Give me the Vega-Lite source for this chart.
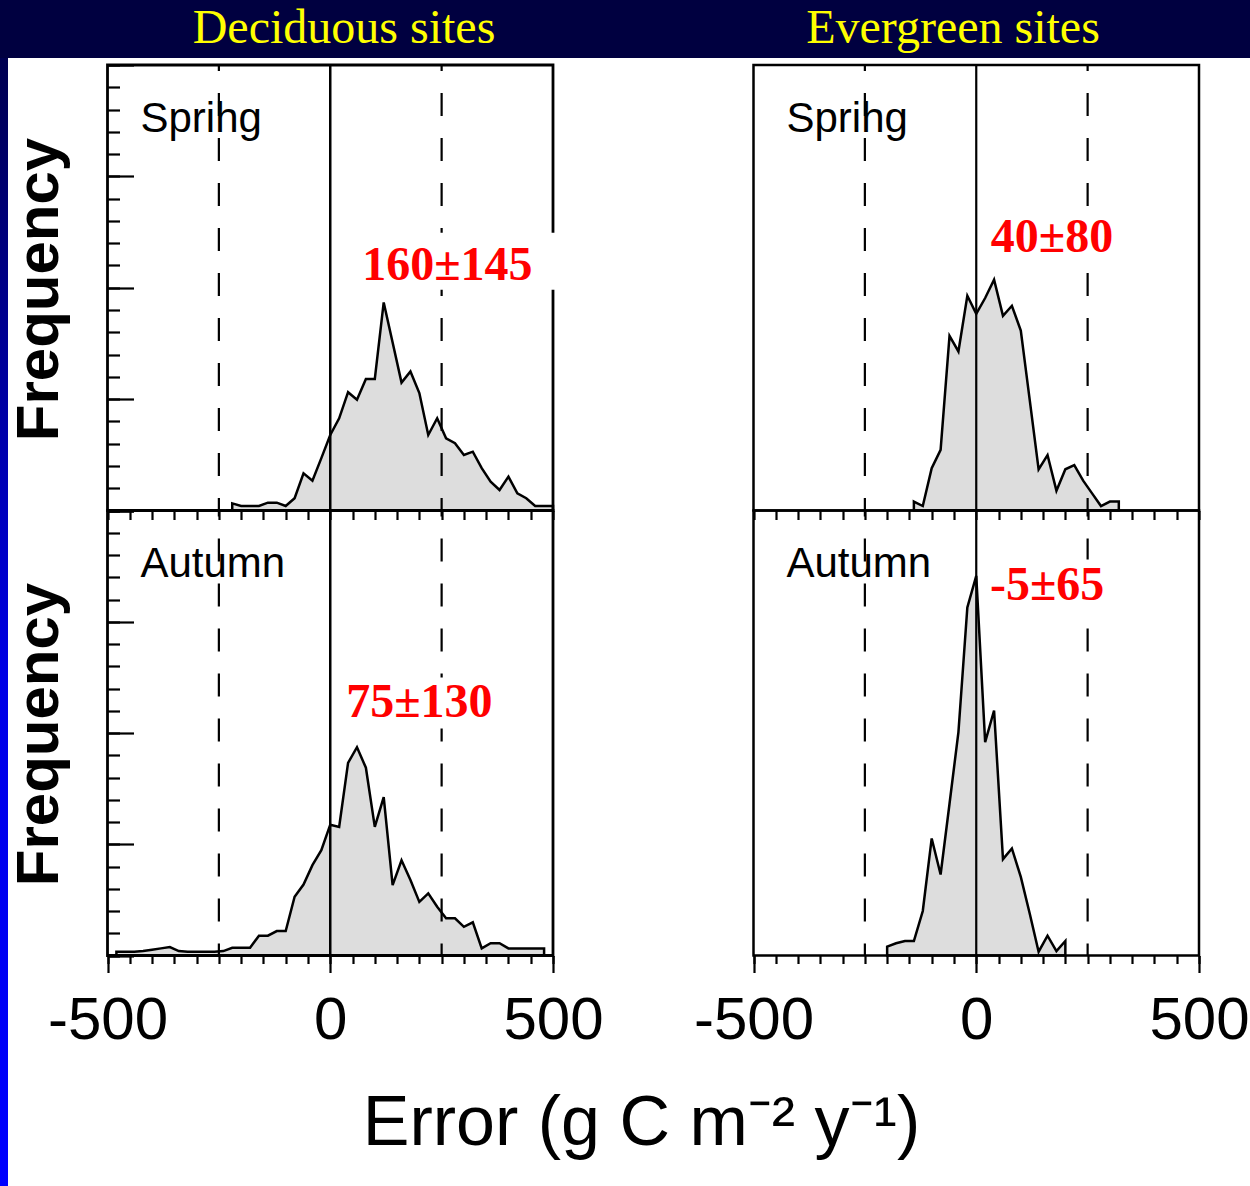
{
  "$schema": "https://vega.github.io/schema/vega-lite/v6.json",
  "padding": 0,
  "background": "white",
  "config": {
    "view": {"stroke": null},
    "axis": {"domain": false, "grid": false, "tickColor": "black", "tickWidth": 2.2, "labelColor": "black", "titleColor": "black", "labelFont": "Liberation Sans", "titleFont": "Liberation Sans"}
  },
  "datasets": {
    "ds": [
      {"error": -220, "freq": 0.32}, {"error": -200, "freq": 0.2}, {"error": -180, "freq": 0.2}, {"error": -160, "freq": 0.2},
      {"error": -140, "freq": 0.35}, {"error": -120, "freq": 0.35}, {"error": -100, "freq": 0.2}, {"error": -80, "freq": 0.55},
      {"error": -60, "freq": 1.67}, {"error": -40, "freq": 1.34}, {"error": -20, "freq": 2.35}, {"error": 0, "freq": 3.39},
      {"error": 20, "freq": 4.14}, {"error": 40, "freq": 5.31}, {"error": 60, "freq": 4.97}, {"error": 80, "freq": 5.9},
      {"error": 100, "freq": 5.9}, {"error": 120, "freq": 9.34}, {"error": 140, "freq": 7.54}, {"error": 160, "freq": 5.74},
      {"error": 180, "freq": 6.24}, {"error": 200, "freq": 5.27}, {"error": 220, "freq": 3.39}, {"error": 240, "freq": 4.14},
      {"error": 260, "freq": 3.24}, {"error": 280, "freq": 3.02}, {"error": 300, "freq": 2.49}, {"error": 320, "freq": 2.64},
      {"error": 340, "freq": 1.9}, {"error": 360, "freq": 1.29}, {"error": 380, "freq": 0.92}, {"error": 400, "freq": 1.52},
      {"error": 420, "freq": 0.77}, {"error": 440, "freq": 0.55}, {"error": 460, "freq": 0.2}, {"error": 480, "freq": 0.2},
      {"error": 500, "freq": 0.2}
    ],
    "es": [
      {"error": -140, "freq": 0.4}, {"error": -120, "freq": 0.2}, {"error": -100, "freq": 1.9}, {"error": -80, "freq": 2.72},
      {"error": -60, "freq": 7.84}, {"error": -40, "freq": 7.14}, {"error": -20, "freq": 9.64}, {"error": 0, "freq": 8.83},
      {"error": 20, "freq": 9.54}, {"error": 40, "freq": 10.36}, {"error": 60, "freq": 8.74}, {"error": 80, "freq": 9.19},
      {"error": 100, "freq": 8.08}, {"error": 120, "freq": 4.97}, {"error": 140, "freq": 1.85}, {"error": 160, "freq": 2.49},
      {"error": 180, "freq": 0.89}, {"error": 200, "freq": 1.85}, {"error": 220, "freq": 2.04}, {"error": 240, "freq": 1.34},
      {"error": 260, "freq": 0.77}, {"error": 280, "freq": 0.2}, {"error": 300, "freq": 0.4}, {"error": 320, "freq": 0.4}
    ],
    "da": [
      {"error": -480, "freq": 0.17}, {"error": -460, "freq": 0.17}, {"error": -440, "freq": 0.17}, {"error": -420, "freq": 0.2},
      {"error": -400, "freq": 0.26}, {"error": -380, "freq": 0.32}, {"error": -360, "freq": 0.38}, {"error": -340, "freq": 0.2},
      {"error": -320, "freq": 0.17}, {"error": -300, "freq": 0.17}, {"error": -280, "freq": 0.17}, {"error": -260, "freq": 0.17},
      {"error": -240, "freq": 0.2}, {"error": -220, "freq": 0.35}, {"error": -200, "freq": 0.35}, {"error": -180, "freq": 0.35},
      {"error": -160, "freq": 0.89}, {"error": -140, "freq": 0.89}, {"error": -120, "freq": 1.1}, {"error": -100, "freq": 1.1},
      {"error": -80, "freq": 2.64}, {"error": -60, "freq": 3.19}, {"error": -40, "freq": 4.06}, {"error": -20, "freq": 4.73},
      {"error": 0, "freq": 5.88}, {"error": 20, "freq": 5.78}, {"error": 40, "freq": 8.66}, {"error": 60, "freq": 9.36},
      {"error": 80, "freq": 8.44}, {"error": 100, "freq": 5.78}, {"error": 120, "freq": 7.12}, {"error": 140, "freq": 3.16},
      {"error": 160, "freq": 4.28}, {"error": 180, "freq": 3.39}, {"error": 200, "freq": 2.41}, {"error": 220, "freq": 2.79},
      {"error": 240, "freq": 2.19}, {"error": 260, "freq": 1.67}, {"error": 280, "freq": 1.67}, {"error": 300, "freq": 1.29},
      {"error": 320, "freq": 1.49}, {"error": 340, "freq": 0.32}, {"error": 360, "freq": 0.55}, {"error": 380, "freq": 0.55},
      {"error": 400, "freq": 0.32}, {"error": 420, "freq": 0.32}, {"error": 440, "freq": 0.32}, {"error": 460, "freq": 0.32},
      {"error": 480, "freq": 0.32}
    ],
    "ea": [
      {"error": -200, "freq": 0.4}, {"error": -180, "freq": 0.55}, {"error": -160, "freq": 0.65}, {"error": -140, "freq": 0.65},
      {"error": -120, "freq": 2.0}, {"error": -100, "freq": 5.26}, {"error": -80, "freq": 3.64}, {"error": -60, "freq": 6.82},
      {"error": -40, "freq": 10.04}, {"error": -20, "freq": 15.64}, {"error": 0, "freq": 17.06}, {"error": 20, "freq": 9.59},
      {"error": 40, "freq": 11.01}, {"error": 60, "freq": 4.33}, {"error": 80, "freq": 4.81}, {"error": 100, "freq": 3.53},
      {"error": 120, "freq": 1.89}, {"error": 140, "freq": 0.17}, {"error": 160, "freq": 0.89}, {"error": 180, "freq": 0.2},
      {"error": 200, "freq": 0.65}
    ]
  },
  "spacing": 0,
  "vconcat": [
    {
      "width": 1250,
      "height": 58,
      "view": {"fill": "#000040", "stroke": null},
      "data": {"values": [{"site": "Deciduous sites"}, {"site": "Evergreen sites"}]},
      "mark": {"type": "text", "font": "Liberation Serif", "fontSize": 48, "fill": "#ffff00", "align": "center", "baseline": "middle"},
      "encoding": {
        "x": {"field": "site", "type": "nominal", "sort": null, "scale": {"type": "point", "padding": 0, "range": [344, 953]}, "axis": null},
        "text": {"field": "site"}
      }
    },
    {
      "spacing": 0,
      "hconcat": [
        {
          "width": 8,
          "height": 1128,
          "data": {"values": [{}]},
          "mark": {"type": "rect", "fill": {"gradient": "linear", "x1": 0, "y1": 0, "x2": 0, "y2": 1, "stops": [{"offset": 0, "color": "#000050"}, {"offset": 0.55, "color": "#0000e6"}, {"offset": 1, "color": "#0000ff"}]}},
          "encoding": {
            "x": {"datum": 0, "type": "quantitative", "scale": {"domain": [0, 1], "nice": false}, "axis": null},
            "x2": {"datum": 1},
            "y": {"datum": 0, "type": "quantitative", "scale": {"domain": [0, 1], "nice": false}, "axis": null},
            "y2": {"datum": 1}
          }
        },
        {
          "width": 1242,
          "height": 1128,
          "resolve": {"scale": {"x": "independent", "y": "independent"}, "axis": {"x": "independent", "y": "independent"}},
          "layer": [
            {
              "resolve": {"axis": {"x": "independent", "y": "independent"}},
              "layer": [
                {
                  "data": {"name": "ds"},
                  "mark": {"type": "area", "fill": "#dddddd", "stroke": "black", "strokeWidth": 2.5},
                  "encoding": {
                    "x": {"field": "error", "type": "quantitative", "scale": {"domain": [-500, 500], "range": [99.5, 545], "nice": false, "zero": false}, "axis": null},
                    "y": {"field": "freq", "type": "quantitative", "stack": null, "scale": {"domain": [0, 20], "range": [452.5, 7], "nice": false, "zero": false},
                      "axis": {"orient": "left", "offset": -99.5, "values": [0, 5, 10, 15, 20], "tickSize": -26, "labels": false, "title": "Frequency", "titleFontSize": 60, "titleFontWeight": "bold", "titleAngle": -90, "titleAlign": "center", "titleBaseline": "alphabetic", "titleX": -50, "titleY": 231}}
                  }
                },
                {
                  "data": {"values": [{}]},
                  "mark": {"type": "rule", "strokeWidth": 2.5, "color": "black"},
                  "encoding": {
                    "x": {"datum": 0, "type": "quantitative", "scale": {"domain": [-500, 500], "range": [99.5, 545], "nice": false, "zero": false}, "axis": null},
                    "y": {"datum": 20, "type": "quantitative", "scale": {"domain": [0, 20], "range": [452.5, 7], "nice": false, "zero": false},
                      "axis": {"orient": "left", "offset": -99.5, "values": [0, 1, 2, 3, 4, 5, 6, 7, 8, 9, 10, 11, 12, 13, 14, 15, 16, 17, 18, 19, 20], "tickSize": -12, "labels": false, "title": null}},
                    "y2": {"datum": 0}
                  }
                },
                {
                  "data": {"values": [{}]},
                  "mark": {"type": "rule", "strokeWidth": 2.2, "color": "black", "strokeDash": [23, 22], "strokeDashOffset": 17},
                  "encoding": {
                    "x": {"datum": -250, "type": "quantitative", "scale": {"domain": [-500, 500], "range": [99.5, 545], "nice": false, "zero": false}, "axis": null},
                    "y": {"datum": 20, "type": "quantitative", "scale": {"domain": [0, 20], "range": [452.5, 7], "nice": false, "zero": false}, "axis": null},
                    "y2": {"datum": 0}
                  }
                },
                {
                  "data": {"values": [{}]},
                  "mark": {"type": "rule", "strokeWidth": 2.2, "color": "black", "strokeDash": [23, 22], "strokeDashOffset": 17},
                  "encoding": {
                    "x": {"datum": 250, "type": "quantitative", "scale": {"domain": [-500, 500], "range": [99.5, 545], "nice": false, "zero": false}, "axis": null},
                    "y": {"datum": 20, "type": "quantitative", "scale": {"domain": [0, 20], "range": [452.5, 7], "nice": false, "zero": false}, "axis": null},
                    "y2": {"datum": 0}
                  }
                },
                {
                  "data": {"values": [{}]},
                  "mark": {"type": "rect", "filled": false, "stroke": "black", "strokeWidth": 2.8},
                  "encoding": {
                    "x": {"datum": -500, "type": "quantitative", "scale": {"domain": [-500, 500], "range": [99.5, 545], "nice": false, "zero": false}, "axis": null},
                    "x2": {"datum": 500},
                    "y": {"datum": 0, "type": "quantitative", "scale": {"domain": [0, 20], "range": [452.5, 7], "nice": false, "zero": false}, "axis": null},
                    "y2": {"datum": 20}
                  }
                },
                {
                  "data": {"values": [{}]},
                  "mark": {"type": "rect", "fill": "white", "strokeWidth": 0},
                  "encoding": {
                    "x": {"datum": 55, "type": "quantitative", "scale": {"domain": [-500, 500], "range": [99.5, 545], "nice": false, "zero": false}, "axis": null},
                    "x2": {"datum": 505},
                    "y": {"datum": 9.91, "type": "quantitative", "scale": {"domain": [0, 20], "range": [452.5, 7], "nice": false, "zero": false}, "axis": null},
                    "y2": {"datum": 12.47}
                  }
                },
                {
                  "data": {"values": [{}]},
                  "mark": {"type": "text", "font": "Liberation Sans", "fontSize": 42, "fill": "black", "align": "left", "baseline": "alphabetic"},
                  "encoding": {
                    "x": {"datum": -426, "type": "quantitative", "scale": {"domain": [-500, 500], "range": [99.5, 545], "nice": false, "zero": false}, "axis": null},
                    "y": {"datum": 17, "type": "quantitative", "scale": {"domain": [0, 20], "range": [452.5, 7], "nice": false, "zero": false}, "axis": null},
                    "text": {"value": "Sprihg"}
                  }
                },
                {
                  "data": {"values": [{}]},
                  "mark": {"type": "text", "font": "Liberation Serif", "fontSize": 48, "fontWeight": "bold", "fill": "#ff0000", "align": "center", "baseline": "alphabetic"},
                  "encoding": {
                    "x": {"datum": 263, "type": "quantitative", "scale": {"domain": [-500, 500], "range": [99.5, 545], "nice": false, "zero": false}, "axis": null},
                    "y": {"datum": 10.36, "type": "quantitative", "scale": {"domain": [0, 20], "range": [452.5, 7], "nice": false, "zero": false}, "axis": null},
                    "text": {"value": "160±145"}
                  }
                }
              ]
            },
            {
              "resolve": {"axis": {"x": "independent", "y": "independent"}},
              "layer": [
                {
                  "data": {"name": "es"},
                  "mark": {"type": "area", "fill": "#dddddd", "stroke": "black", "strokeWidth": 2.5},
                  "encoding": {
                    "x": {"field": "error", "type": "quantitative", "scale": {"domain": [-500, 500], "range": [745.5, 1191], "nice": false, "zero": false}, "axis": null},
                    "y": {"field": "freq", "type": "quantitative", "stack": null, "scale": {"domain": [0, 20], "range": [452.5, 7], "nice": false, "zero": false}, "axis": null}
                  }
                },
                {
                  "data": {"values": [{}]},
                  "mark": {"type": "rule", "strokeWidth": 2.2, "color": "black"},
                  "encoding": {
                    "x": {"datum": 0, "type": "quantitative", "scale": {"domain": [-500, 500], "range": [745.5, 1191], "nice": false, "zero": false}, "axis": null},
                    "y": {"datum": 20, "type": "quantitative", "scale": {"domain": [0, 20], "range": [452.5, 7], "nice": false, "zero": false}, "axis": null},
                    "y2": {"datum": 0}
                  }
                },
                {
                  "data": {"values": [{}]},
                  "mark": {"type": "rule", "strokeWidth": 2.2, "color": "black", "strokeDash": [23, 22], "strokeDashOffset": 17},
                  "encoding": {
                    "x": {"datum": -250, "type": "quantitative", "scale": {"domain": [-500, 500], "range": [745.5, 1191], "nice": false, "zero": false}, "axis": null},
                    "y": {"datum": 20, "type": "quantitative", "scale": {"domain": [0, 20], "range": [452.5, 7], "nice": false, "zero": false}, "axis": null},
                    "y2": {"datum": 0}
                  }
                },
                {
                  "data": {"values": [{}]},
                  "mark": {"type": "rule", "strokeWidth": 2.2, "color": "black", "strokeDash": [23, 22], "strokeDashOffset": 17},
                  "encoding": {
                    "x": {"datum": 250, "type": "quantitative", "scale": {"domain": [-500, 500], "range": [745.5, 1191], "nice": false, "zero": false}, "axis": null},
                    "y": {"datum": 20, "type": "quantitative", "scale": {"domain": [0, 20], "range": [452.5, 7], "nice": false, "zero": false}, "axis": null},
                    "y2": {"datum": 0}
                  }
                },
                {
                  "data": {"values": [{}]},
                  "mark": {"type": "rect", "filled": false, "stroke": "black", "strokeWidth": 2.5},
                  "encoding": {
                    "x": {"datum": -500, "type": "quantitative", "scale": {"domain": [-500, 500], "range": [745.5, 1191], "nice": false, "zero": false}, "axis": null},
                    "x2": {"datum": 500},
                    "y": {"datum": 0, "type": "quantitative", "scale": {"domain": [0, 20], "range": [452.5, 7], "nice": false, "zero": false}, "axis": null},
                    "y2": {"datum": 20}
                  }
                },
                {
                  "data": {"values": [{}]},
                  "mark": {"type": "rect", "fill": "white", "strokeWidth": 0},
                  "encoding": {
                    "x": {"datum": 25, "type": "quantitative", "scale": {"domain": [-500, 500], "range": [745.5, 1191], "nice": false, "zero": false}, "axis": null},
                    "x2": {"datum": 320},
                    "y": {"datum": 11.3, "type": "quantitative", "scale": {"domain": [0, 20], "range": [452.5, 7], "nice": false, "zero": false}, "axis": null},
                    "y2": {"datum": 13.3}
                  }
                },
                {
                  "data": {"values": [{}]},
                  "mark": {"type": "text", "font": "Liberation Sans", "fontSize": 42, "fill": "black", "align": "left", "baseline": "alphabetic"},
                  "encoding": {
                    "x": {"datum": -426, "type": "quantitative", "scale": {"domain": [-500, 500], "range": [745.5, 1191], "nice": false, "zero": false}, "axis": null},
                    "y": {"datum": 17, "type": "quantitative", "scale": {"domain": [0, 20], "range": [452.5, 7], "nice": false, "zero": false}, "axis": null},
                    "text": {"value": "Sprihg"}
                  }
                },
                {
                  "data": {"values": [{}]},
                  "mark": {"type": "text", "font": "Liberation Serif", "fontSize": 48, "fontWeight": "bold", "fill": "#ff0000", "align": "center", "baseline": "alphabetic"},
                  "encoding": {
                    "x": {"datum": 170, "type": "quantitative", "scale": {"domain": [-500, 500], "range": [745.5, 1191], "nice": false, "zero": false}, "axis": null},
                    "y": {"datum": 11.6, "type": "quantitative", "scale": {"domain": [0, 20], "range": [452.5, 7], "nice": false, "zero": false}, "axis": null},
                    "text": {"value": "40±80"}
                  }
                }
              ]
            },
            {
              "resolve": {"axis": {"x": "independent", "y": "independent"}},
              "layer": [
                {
                  "data": {"name": "da"},
                  "mark": {"type": "area", "fill": "#dddddd", "stroke": "black", "strokeWidth": 2.5},
                  "encoding": {
                    "x": {"field": "error", "type": "quantitative", "scale": {"domain": [-500, 500], "range": [99.5, 545], "nice": false, "zero": false},
                      "axis": {"orient": "bottom", "offset": -230.5, "values": [-500, 0, 500], "tickSize": 17, "labelExpr": "'' + datum.value", "labelFontSize": 60, "labelPadding": 19, "labelFlush": false, "labelOverlap": false, "labelBound": false,
                        "title": "Error (g C m⁻² y⁻¹)", "titleFontSize": 70, "titleFontWeight": "normal", "titleAngle": 0, "titleAlign": "center", "titleBaseline": "alphabetic", "titleX": 633, "titleY": 188.5}},
                    "y": {"field": "freq", "type": "quantitative", "stack": null, "scale": {"domain": [0, 20], "range": [897.5, 452.5], "nice": false, "zero": false},
                      "axis": {"orient": "left", "offset": -99.5, "values": [0, 5, 10, 15, 20], "tickSize": -26, "labels": false, "title": "Frequency", "titleFontSize": 60, "titleFontWeight": "bold", "titleAngle": -90, "titleAlign": "center", "titleBaseline": "alphabetic", "titleX": -50, "titleY": 676}}
                  }
                },
                {
                  "data": {"values": [{}]},
                  "mark": {"type": "rule", "strokeWidth": 2.5, "color": "black"},
                  "encoding": {
                    "x": {"datum": 0, "type": "quantitative", "scale": {"domain": [-500, 500], "range": [99.5, 545], "nice": false, "zero": false},
                      "axis": {"orient": "top", "offset": -452.5, "values": [-500, -450, -400, -350, -300, -250, -200, -150, -100, -50, 0, 50, 100, 150, 200, 250, 300, 350, 400, 450, 500], "tickSize": -9, "labels": false, "title": null}},
                    "y": {"datum": 20, "type": "quantitative", "scale": {"domain": [0, 20], "range": [897.5, 452.5], "nice": false, "zero": false},
                      "axis": {"orient": "left", "offset": -99.5, "values": [0, 1, 2, 3, 4, 5, 6, 7, 8, 9, 10, 11, 12, 13, 14, 15, 16, 17, 18, 19, 20], "tickSize": -12, "labels": false, "title": null}},
                    "y2": {"datum": 0}
                  }
                },
                {
                  "data": {"values": [{}]},
                  "mark": {"type": "rule", "strokeWidth": 2.2, "color": "black", "strokeDash": [23, 22], "strokeDashOffset": 17},
                  "encoding": {
                    "x": {"datum": -250, "type": "quantitative", "scale": {"domain": [-500, 500], "range": [99.5, 545], "nice": false, "zero": false},
                      "axis": {"orient": "bottom", "offset": -230.5, "values": [-500, -450, -400, -350, -300, -250, -200, -150, -100, -50, 0, 50, 100, 150, 200, 250, 300, 350, 400, 450, 500], "tickSize": 8, "labels": false, "title": null}},
                    "y": {"datum": 20, "type": "quantitative", "scale": {"domain": [0, 20], "range": [897.5, 452.5], "nice": false, "zero": false}, "axis": null},
                    "y2": {"datum": 0}
                  }
                },
                {
                  "data": {"values": [{}]},
                  "mark": {"type": "rule", "strokeWidth": 2.2, "color": "black", "strokeDash": [23, 22], "strokeDashOffset": 17},
                  "encoding": {
                    "x": {"datum": 250, "type": "quantitative", "scale": {"domain": [-500, 500], "range": [99.5, 545], "nice": false, "zero": false}, "axis": null},
                    "y": {"datum": 20, "type": "quantitative", "scale": {"domain": [0, 20], "range": [897.5, 452.5], "nice": false, "zero": false}, "axis": null},
                    "y2": {"datum": 0}
                  }
                },
                {
                  "data": {"values": [{}]},
                  "mark": {"type": "rect", "filled": false, "stroke": "black", "strokeWidth": 2.8},
                  "encoding": {
                    "x": {"datum": -500, "type": "quantitative", "scale": {"domain": [-500, 500], "range": [99.5, 545], "nice": false, "zero": false}, "axis": null},
                    "x2": {"datum": 500},
                    "y": {"datum": 0, "type": "quantitative", "scale": {"domain": [0, 20], "range": [897.5, 452.5], "nice": false, "zero": false}, "axis": null},
                    "y2": {"datum": 20}
                  }
                },
                {
                  "data": {"values": [{}]},
                  "mark": {"type": "rect", "fill": "white", "strokeWidth": 0},
                  "encoding": {
                    "x": {"datum": 26, "type": "quantitative", "scale": {"domain": [-500, 500], "range": [99.5, 545], "nice": false, "zero": false}, "axis": null},
                    "x2": {"datum": 381},
                    "y": {"datum": 10.2, "type": "quantitative", "scale": {"domain": [0, 20], "range": [897.5, 452.5], "nice": false, "zero": false}, "axis": null},
                    "y2": {"datum": 12.49}
                  }
                },
                {
                  "data": {"values": [{}]},
                  "mark": {"type": "text", "font": "Liberation Sans", "fontSize": 42, "fill": "black", "align": "left", "baseline": "alphabetic"},
                  "encoding": {
                    "x": {"datum": -426, "type": "quantitative", "scale": {"domain": [-500, 500], "range": [99.5, 545], "nice": false, "zero": false}, "axis": null},
                    "y": {"datum": 17, "type": "quantitative", "scale": {"domain": [0, 20], "range": [897.5, 452.5], "nice": false, "zero": false}, "axis": null},
                    "text": {"value": "Autumn"}
                  }
                },
                {
                  "data": {"values": [{}]},
                  "mark": {"type": "text", "font": "Liberation Serif", "fontSize": 48, "fontWeight": "bold", "fill": "#ff0000", "align": "center", "baseline": "alphabetic"},
                  "encoding": {
                    "x": {"datum": 200, "type": "quantitative", "scale": {"domain": [-500, 500], "range": [99.5, 545], "nice": false, "zero": false}, "axis": null},
                    "y": {"datum": 10.7, "type": "quantitative", "scale": {"domain": [0, 20], "range": [897.5, 452.5], "nice": false, "zero": false}, "axis": null},
                    "text": {"value": "75±130"}
                  }
                }
              ]
            },
            {
              "resolve": {"axis": {"x": "independent", "y": "independent"}},
              "layer": [
                {
                  "data": {"name": "ea"},
                  "mark": {"type": "area", "fill": "#dddddd", "stroke": "black", "strokeWidth": 2.5},
                  "encoding": {
                    "x": {"field": "error", "type": "quantitative", "scale": {"domain": [-500, 500], "range": [745.5, 1191], "nice": false, "zero": false},
                      "axis": {"orient": "bottom", "offset": -230.5, "values": [-500, 0, 500], "tickSize": 17, "labelExpr": "'' + datum.value", "labelFontSize": 60, "labelPadding": 19, "labelFlush": false, "labelOverlap": false, "labelBound": false, "title": null}},
                    "y": {"field": "freq", "type": "quantitative", "stack": null, "scale": {"domain": [0, 20], "range": [897.5, 452.5], "nice": false, "zero": false}, "axis": null}
                  }
                },
                {
                  "data": {"values": [{}]},
                  "mark": {"type": "rule", "strokeWidth": 2.2, "color": "black"},
                  "encoding": {
                    "x": {"datum": 0, "type": "quantitative", "scale": {"domain": [-500, 500], "range": [745.5, 1191], "nice": false, "zero": false},
                      "axis": {"orient": "top", "offset": -452.5, "values": [-500, -450, -400, -350, -300, -250, -200, -150, -100, -50, 0, 50, 100, 150, 200, 250, 300, 350, 400, 450, 500], "tickSize": -9, "labels": false, "title": null}},
                    "y": {"datum": 20, "type": "quantitative", "scale": {"domain": [0, 20], "range": [897.5, 452.5], "nice": false, "zero": false}, "axis": null},
                    "y2": {"datum": 0}
                  }
                },
                {
                  "data": {"values": [{}]},
                  "mark": {"type": "rule", "strokeWidth": 2.2, "color": "black", "strokeDash": [23, 22], "strokeDashOffset": 17},
                  "encoding": {
                    "x": {"datum": -250, "type": "quantitative", "scale": {"domain": [-500, 500], "range": [745.5, 1191], "nice": false, "zero": false},
                      "axis": {"orient": "bottom", "offset": -230.5, "values": [-500, -450, -400, -350, -300, -250, -200, -150, -100, -50, 0, 50, 100, 150, 200, 250, 300, 350, 400, 450, 500], "tickSize": 8, "labels": false, "title": null}},
                    "y": {"datum": 20, "type": "quantitative", "scale": {"domain": [0, 20], "range": [897.5, 452.5], "nice": false, "zero": false}, "axis": null},
                    "y2": {"datum": 0}
                  }
                },
                {
                  "data": {"values": [{}]},
                  "mark": {"type": "rule", "strokeWidth": 2.2, "color": "black", "strokeDash": [23, 22], "strokeDashOffset": 17},
                  "encoding": {
                    "x": {"datum": 250, "type": "quantitative", "scale": {"domain": [-500, 500], "range": [745.5, 1191], "nice": false, "zero": false}, "axis": null},
                    "y": {"datum": 20, "type": "quantitative", "scale": {"domain": [0, 20], "range": [897.5, 452.5], "nice": false, "zero": false}, "axis": null},
                    "y2": {"datum": 0}
                  }
                },
                {
                  "data": {"values": [{}]},
                  "mark": {"type": "rect", "filled": false, "stroke": "black", "strokeWidth": 2.5},
                  "encoding": {
                    "x": {"datum": -500, "type": "quantitative", "scale": {"domain": [-500, 500], "range": [745.5, 1191], "nice": false, "zero": false}, "axis": null},
                    "x2": {"datum": 500},
                    "y": {"datum": 0, "type": "quantitative", "scale": {"domain": [0, 20], "range": [897.5, 452.5], "nice": false, "zero": false}, "axis": null},
                    "y2": {"datum": 20}
                  }
                },
                {
                  "data": {"values": [{}]},
                  "mark": {"type": "rect", "fill": "white", "strokeWidth": 0},
                  "encoding": {
                    "x": {"datum": 25, "type": "quantitative", "scale": {"domain": [-500, 500], "range": [745.5, 1191], "nice": false, "zero": false}, "axis": null},
                    "x2": {"datum": 300},
                    "y": {"datum": 15.55, "type": "quantitative", "scale": {"domain": [0, 20], "range": [897.5, 452.5], "nice": false, "zero": false}, "axis": null},
                    "y2": {"datum": 17.8}
                  }
                },
                {
                  "data": {"values": [{}]},
                  "mark": {"type": "text", "font": "Liberation Sans", "fontSize": 42, "fill": "black", "align": "left", "baseline": "alphabetic"},
                  "encoding": {
                    "x": {"datum": -426, "type": "quantitative", "scale": {"domain": [-500, 500], "range": [745.5, 1191], "nice": false, "zero": false}, "axis": null},
                    "y": {"datum": 17, "type": "quantitative", "scale": {"domain": [0, 20], "range": [897.5, 452.5], "nice": false, "zero": false}, "axis": null},
                    "text": {"value": "Autumn"}
                  }
                },
                {
                  "data": {"values": [{}]},
                  "mark": {"type": "text", "font": "Liberation Serif", "fontSize": 48, "fontWeight": "bold", "fill": "#ff0000", "align": "center", "baseline": "alphabetic"},
                  "encoding": {
                    "x": {"datum": 159, "type": "quantitative", "scale": {"domain": [-500, 500], "range": [745.5, 1191], "nice": false, "zero": false}, "axis": null},
                    "y": {"datum": 16.0, "type": "quantitative", "scale": {"domain": [0, 20], "range": [897.5, 452.5], "nice": false, "zero": false}, "axis": null},
                    "text": {"value": "-5±65"}
                  }
                }
              ]
            }
          ]
        }
      ]
    }
  ]
}
